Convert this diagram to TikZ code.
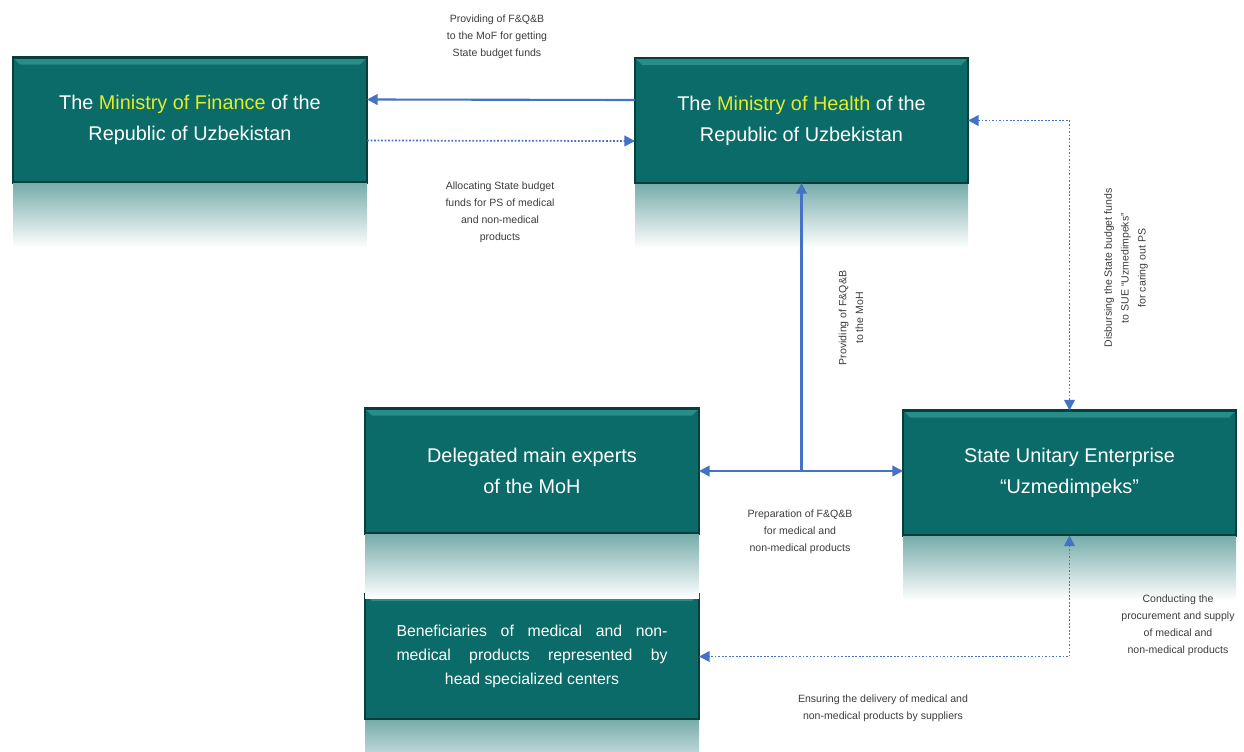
\documentclass[tikz,border=0pt]{standalone}
\usepackage{fontspec}
\setmainfont{Liberation Sans}
\usetikzlibrary{arrows.meta,positioning}
\definecolor{boxteal}{RGB}{10,107,104}
\definecolor{boxdark}{RGB}{6,62,60}
\definecolor{boxlight}{RGB}{40,140,136}
\definecolor{flowblue}{RGB}{68,114,196}
\definecolor{hiyellow}{RGB}{226,236,40}
\definecolor{lblgray}{RGB}{60,60,60}
\tikzstyle{box} = [draw=boxdark,line width=1.5pt,fill=boxteal,rectangle,inner sep=0,outer sep=0,minimum height=2.5cm,text=white,align=center,font=\fontsize{11.3}{17.5}\selectfont,
  path picture={\fill[boxlight] (path picture bounding box.north west) -- (path picture bounding box.north east) -- ([xshift=-4pt,yshift=-4pt]path picture bounding box.north east) -- ([xshift=4pt,yshift=-4pt]path picture bounding box.north west) -- cycle;}]
\tikzstyle{lbl} = [text=lblgray,align=center,inner sep=0,font=\fontsize{6}{9.6}\selectfont]
\tikzstyle{flow} = [-{Triangle[length=6pt,width=6pt]},draw=flowblue,line width=1.2pt]
\tikzstyle{dflow} = [{Triangle[length=6pt,width=6pt]}-{Triangle[length=6pt,width=6pt]},draw=flowblue,line width=1pt,densely dotted]
\def \ab {0.41cm}
\newcommand{\hl}[1]{\textcolor{hiyellow}{#1}}
\newcommand{\jline}[1]{\makebox[5.42cm][s]{#1}}

\begin{document}
\begin{tikzpicture}
      \useasboundingbox (0,0) rectangle (24.88,-15.04);
      \node[box,minimum width=7.08cm] (mof) at (3.80,-2.40) {The \hl{Ministry of Finance} of the\\Republic of Uzbekistan};
      \node[box,minimum width=6.66cm] (moh) at (16.03,-2.41) {The \hl{Ministry of Health} of the\\Republic of Uzbekistan};
      \node[box,minimum width=6.68cm] (del) at (10.64,-9.42) {Delegated main experts\\of the MoH};
      \node[box,minimum width=6.66cm] (sue) at (21.39,-9.46) {State Unitary Enterprise\\``Uzmedimpeks''};
      \node[box,minimum width=6.68cm,font=\fontsize{9}{13.6}\selectfont] (ben) at (10.64,-13.13)
        {\jline{Beneficiaries of medical and non-}\\\jline{medical products represented by}\\head specialized centers};
      \foreach \b in {mof,moh,del,sue,ben}
        \shade[top color=boxteal!55,bottom color=white] ([yshift=-0.8pt]\b.south west) rectangle ([yshift=-1.3cm]\b.south east);
      \coordinate (jn) at (moh.south |- del.east);
      \draw[flow] ([yshift=\ab]moh.west) -- ([yshift=\ab]mof.east);
      \draw[flow,line width=1pt,densely dotted] ([yshift=-\ab]mof.east) -- ([yshift=-\ab]moh.west);
      \draw[flow] (jn) -- (moh.south);
      \draw[flow] (jn) -- (del.east);
      \draw[flow] (jn) -- (sue.west |- jn);
      \draw[dflow] (moh.east) -| (sue.north);
      \draw[dflow] (sue.south) |- (ben.east);
      \node[lbl] (l1) at (9.94,-0.74) {Providing of F\&Q\&B\\to the MoF for getting\\State budget funds};
      \node[lbl] (l2) at (10.0,-4.24) {Allocating State budget\\funds for PS of medical\\and non-medical\\products};
      \node[lbl,rotate=90] (l3) at (17.02,-6.36) {Providing of F\&Q\&B\\to the MoH};
      \node[lbl,rotate=90] (l4) at (22.52,-5.36) {Disbursing the State budget funds\\to SUE ``Uzmedimpeks''\\for caring out PS};
      \node[lbl] (l5) at (16.0,-10.64) {Preparation of F\&Q\&B\\for medical and\\non-medical products};
      \node[lbl] (l6) at (23.56,-12.5) {Conducting the\\procurement and supply\\of medical and\\non-medical products};
      \node[lbl] (l7) at (17.66,-14.16) {Ensuring the delivery of medical and\\non-medical products by suppliers};
    \end{tikzpicture}
\end{document}
